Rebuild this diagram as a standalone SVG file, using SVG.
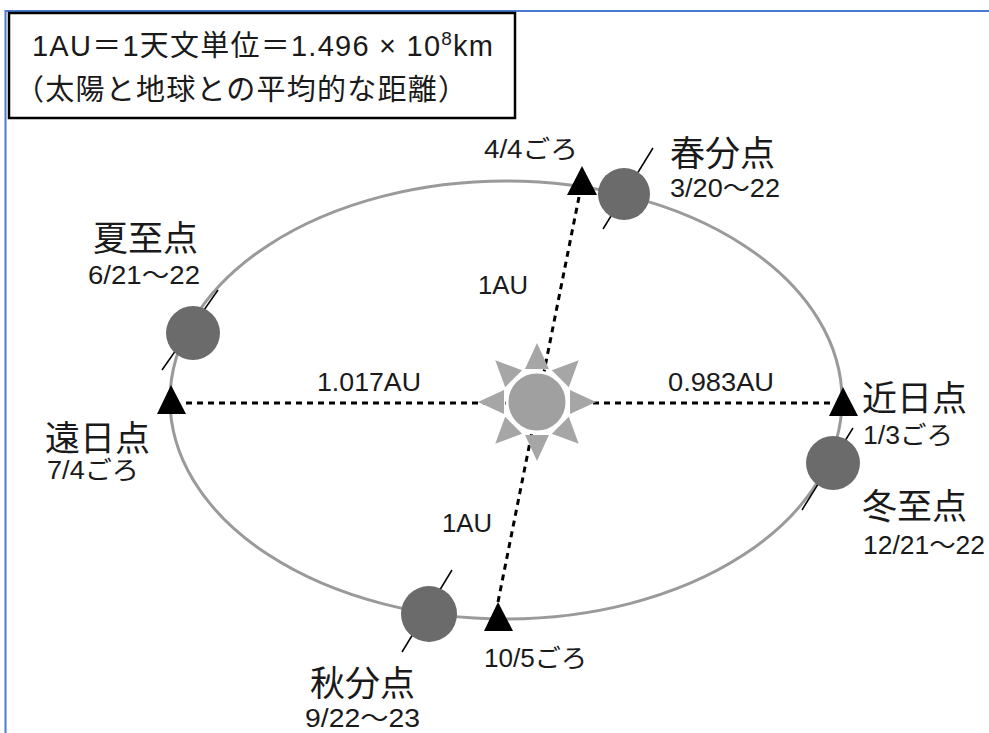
<svg xmlns="http://www.w3.org/2000/svg" width="989" height="733" viewBox="0 0 989 733">
  <style>
    text { font-family: "Liberation Sans", "Noto Sans CJK JP", sans-serif; fill: #1a1a1a; }
    .big { font-size: 35px; }
    .sm { font-size: 25px; }
    .hd { font-size: 29px; }
    .orbit { fill: none; stroke: #9a9a9a; stroke-width: 3; }
    .dash { fill: none; stroke: #000; stroke-width: 3; stroke-dasharray: 6 5; }
    .mark { fill: #000; }
    .earth { fill: #6b6b6b; }
    .axis { stroke: #000; stroke-width: 1.5; }
    .ray { fill: #a6a6a6; }
  </style>

  <!-- frame -->
  <path d="M5.5 733 V11 H989" fill="none" stroke="#4a7bd0" stroke-width="2"/>

  <!-- definition box -->
  <g id="legend">
    <rect x="9" y="13" width="506" height="105" fill="#fff" stroke="#000" stroke-width="2.5"/>
    <text class="hd" x="32" y="56" textLength="461">1AU＝1天文単位＝1.496 × 10<tspan font-size="19" dy="-11">8</tspan><tspan dy="11">km</tspan></text>
    <text class="hd" x="15" y="100" textLength="452">（太陽と地球との平均的な距離）</text>
  </g>

  <!-- orbit -->
  <g id="orbit">
    <ellipse class="orbit" cx="506" cy="400" rx="336" ry="219"/>
  </g>

  <!-- distance lines -->
  <g id="connectors">
    <line class="dash" x1="186" y1="403" x2="830" y2="403"/>
    <line class="dash" x1="579" y1="197" x2="498" y2="602"/>
  </g>

  <!-- sun -->
  <g id="sun">
    <g class="ray">
      <polygon points="537,343 525,369 549,369"/>
      <polygon points="537,343 525,369 549,369" transform="rotate(45 537 402)"/>
      <polygon points="537,343 525,369 549,369" transform="rotate(90 537 402)"/>
      <polygon points="537,343 525,369 549,369" transform="rotate(135 537 402)"/>
      <polygon points="537,343 525,369 549,369" transform="rotate(180 537 402)"/>
      <polygon points="537,343 525,369 549,369" transform="rotate(225 537 402)"/>
      <polygon points="537,343 525,369 549,369" transform="rotate(270 537 402)"/>
      <polygon points="537,343 525,369 549,369" transform="rotate(315 537 402)"/>
    </g>
    <circle cx="537" cy="402" r="30" fill="#a0a0a0" stroke="#fff" stroke-width="3"/>
  </g>

  <!-- markers on the orbit -->
  <g id="aphelion">
    <polygon class="mark" points="171,385 157,414 186,414"/>
    <text class="big" x="45" y="451">遠日点</text>
    <text class="sm" x="47" y="479" textLength="92" lengthAdjust="spacingAndGlyphs">7/4ごろ</text>
  </g>
  <g id="perihelion">
    <polygon class="mark" points="843,387 829,416 858,416"/>
    <text class="big" x="862" y="411">近日点</text>
    <text class="sm" x="863" y="444" textLength="90" lengthAdjust="spacingAndGlyphs">1/3ごろ</text>
  </g>
  <g id="apr4">
    <polygon class="mark" points="582,166 567,195 597,195"/>
    <text class="sm" x="484" y="158" textLength="94" lengthAdjust="spacingAndGlyphs">4/4ごろ</text>
  </g>
  <g id="oct5">
    <polygon class="mark" points="498,602 484,631 513,631"/>
    <text class="sm" x="484" y="667" textLength="103" lengthAdjust="spacingAndGlyphs">10/5ごろ</text>
  </g>

  <!-- earth positions -->
  <g id="vernal-equinox">
    <line class="axis" x1="653" y1="148" x2="603" y2="229"/>
    <circle class="earth" cx="624" cy="194" r="26"/>
    <text class="big" x="670" y="166">春分点</text>
    <text class="sm" x="670" y="197" textLength="110" lengthAdjust="spacingAndGlyphs">3/20～22</text>
  </g>
  <g id="summer-solstice">
    <line class="axis" x1="218" y1="290" x2="162" y2="370" stroke-width="2.5"/>
    <circle class="earth" cx="193" cy="333" r="27"/>
    <text class="big" x="93" y="251">夏至点</text>
    <text class="sm" x="88" y="284" textLength="112" lengthAdjust="spacingAndGlyphs">6/21～22</text>
  </g>
  <g id="winter-solstice">
    <line class="axis" x1="853" y1="428" x2="802" y2="510"/>
    <circle class="earth" cx="833" cy="463" r="27"/>
    <text class="big" x="862" y="519">冬至点</text>
    <text class="sm" x="863" y="554" textLength="122" lengthAdjust="spacingAndGlyphs">12/21～22</text>
  </g>
  <g id="autumnal-equinox">
    <line class="axis" x1="452" y1="570" x2="402" y2="652"/>
    <circle class="earth" cx="429" cy="614" r="28"/>
    <text class="big" x="310" y="696">秋分点</text>
    <text class="sm" x="305" y="727" textLength="115" lengthAdjust="spacingAndGlyphs">9/22～23</text>
  </g>

  <!-- distance labels -->
  <g id="labels">
    <text class="sm" x="478" y="294" textLength="50" lengthAdjust="spacingAndGlyphs">1AU</text>
    <text class="sm" x="442" y="532" textLength="50" lengthAdjust="spacingAndGlyphs">1AU</text>
    <text class="sm" x="317" y="391" textLength="104" lengthAdjust="spacingAndGlyphs">1.017AU</text>
    <text class="sm" x="668" y="391" textLength="106" lengthAdjust="spacingAndGlyphs">0.983AU</text>
  </g>
</svg>
